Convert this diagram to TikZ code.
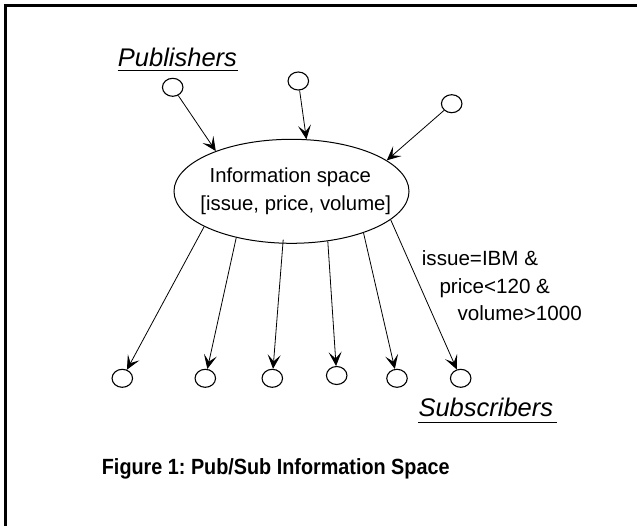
\documentclass[tikz,border=0pt]{standalone}
\usepackage{fontspec}
\setmainfont{Liberation Sans}
\usetikzlibrary{shapes.geometric,arrows.meta}
\frenchspacing

\tikzset{
  party/.style={draw, ellipse, line width=1.1pt, minimum width=20.5pt, minimum height=18pt, inner sep=0pt},
  space/.style={draw, ellipse, line width=1pt, minimum width=235pt, minimum height=104pt, inner sep=0pt},
  flow/.style={line width=0.8pt, -{Stealth[length=14pt, width=13pt, inset=6.5pt]}},
  txt/.style={inner sep=0pt, anchor=base west},
  ctxt/.style={inner sep=0pt, anchor=base},
  rolefont/.style={font=\fontsize{25.5}{30}\selectfont\itshape},
  bodyfont/.style={font=\fontsize{20.3}{24}\selectfont},
  condfont/.style={font=\fontsize{20.6}{24}\selectfont},
  capfont/.style={font=\fontsize{22}{26}\selectfont\bfseries},
}

\begin{document}
\begin{tikzpicture}[x=1pt, y=-1pt]
  \useasboundingbox (0,0) rectangle (637,525);
  \clip (0,0) rectangle (637,525);

  % outer frame (top and left edges)
  \draw[line width=3pt] (640,5.5) -- (5.5,5.5) -- (5.5,530);

  % publishers
  \node[txt, rolefont] (pubs) at (117.7,66.7) {Publishers};
  \draw[line width=1.2pt] (pubs.base west) ++(0,3.6) -- ++(120.5,0);
  \node[party] (p1) at (172.7,87.3) {};
  \node[party] (p2) at (298.3,81) {};
  \node[party] (p3) at (451.7,103.7) {};

  % information space
  \node[space] (info) at (291.5,191.3) {};
  \node[ctxt, bodyfont] (l1) at (290.3,182.7) {Information space};
  \node[ctxt, bodyfont] (l2) at (295.8,210) {[issue, price, volume]};

  % subscribers
  \node[party] (s1) at (122.3,378.3) {};
  \node[party] (s2) at (205.3,378.3) {};
  \node[party] (s3) at (272.3,378.3) {};
  \node[party] (s4) at (336.7,375.5) {};
  \node[party] (s5) at (397,378.3) {};
  \node[party] (s6) at (460.7,378.3) {};
  \node[txt, rolefont] (subs) at (418.3,416.7) {Subscribers};
  \draw[line width=1.2pt] (subs.base west) ++(0,5.5) -- ++(138.5,0);

  % publications into the space
  \draw[flow] (p1) -- (info.152);
  \draw[flow] (p2) -- (info.74.4);
  \draw[flow] (p3) -- (info.18.4);

  % notifications to subscribers
  \draw[flow] (info.202.4) -- (s1);
  \draw[flow] (info.220.2) -- (s2);
  \draw[flow] ([yshift=4pt]info.261.7) -- (s3);
  \draw[flow] (info.306.6) -- (s4);
  \draw[flow] (info.330.8) -- (s5);
  \draw[flow] (info.344.3) -- (s6);

  % subscription condition
  \node[txt, condfont] (c1) at (421.7,265.7) {issue=IBM \&};
  \node[txt, condfont] (c2) at (439.3,293.3) {price<120 \&};
  \node[txt, condfont] (c3) at (457.3,320.7) {volume>1000};

  % caption
  \node[txt, capfont] (cap) at (101.7,474) {\scalebox{0.9}[1]{Figure 1: Pub/Sub Information Space}};
\end{tikzpicture}
\end{document}
